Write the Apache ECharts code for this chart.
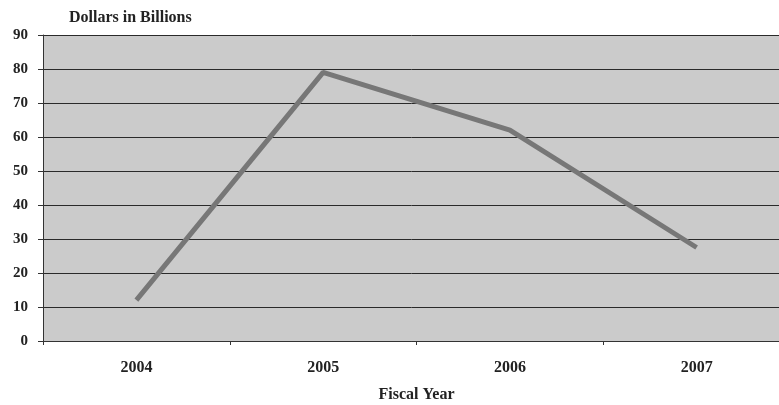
<!DOCTYPE html>
<html><head><meta charset="utf-8">
<script src="https://cdn.jsdelivr.net/npm/echarts@6/dist/echarts.min.js"></script>
<style>html,body{margin:0;padding:0;background:#fff}#c{width:779px;height:405px}</style>
</head><body><div id="c"></div>
<script>
var categories = ['2004', '2005', '2006', '2007'];
var values = [12, 79, 62, 27.5];
var yTicks = [0, 10, 20, 30, 40, 50, 60, 70, 80, 90];

var chart = echarts.init(document.getElementById('c'), null, {renderer: 'canvas'});
var font = 'Liberation Serif';
chart.setOption({
  animation: false,
  backgroundColor: '#ffffff',
  title: {
    text: 'Dollars in Billions', left: 64, top: 5,
    textStyle: {fontFamily: font, fontWeight: 'bold', fontSize: 16, color: '#222'}
  },
  grid: {left: 43, width: 747, top: 35, height: 306, show: true, backgroundColor: '#cbcbcb', borderWidth: 0,
    containLabel: false, outerBoundsMode: 'none'},
  xAxis: {
    type: 'category', data: categories, boundaryGap: true,
    name: 'Fiscal Year', nameLocation: 'middle', nameGap: 46,
    nameTextStyle: {fontFamily: font, fontWeight: 'bold', fontSize: 16, color: '#222'},
    axisLine: {lineStyle: {color: '#333', width: 1}},
    axisTick: {show: true, length: 4, lineStyle: {color: '#333'}},
    axisLabel: {fontFamily: font, fontWeight: 'bold', fontSize: 16, color: '#222', margin: 19}
  },
  yAxis: {
    type: 'value', min: 0, max: 90, interval: 10,
    axisLine: {show: true, lineStyle: {color: '#333', width: 1}},
    axisTick: {show: true, length: 5, lineStyle: {color: '#333'}},
    axisLabel: {fontFamily: font, fontWeight: 'bold', fontSize: 15, color: '#222', margin: 15,
      formatter: function (v) { return yTicks.indexOf(v) >= 0 ? String(v) : ''; }},
    splitLine: {show: true, lineStyle: {color: '#2a2a2a', width: 1}}
  },
  series: [{
    type: 'line', data: values, symbol: 'none',
    lineStyle: {color: '#777777', width: 5}
  }]
});
</script></body></html>
